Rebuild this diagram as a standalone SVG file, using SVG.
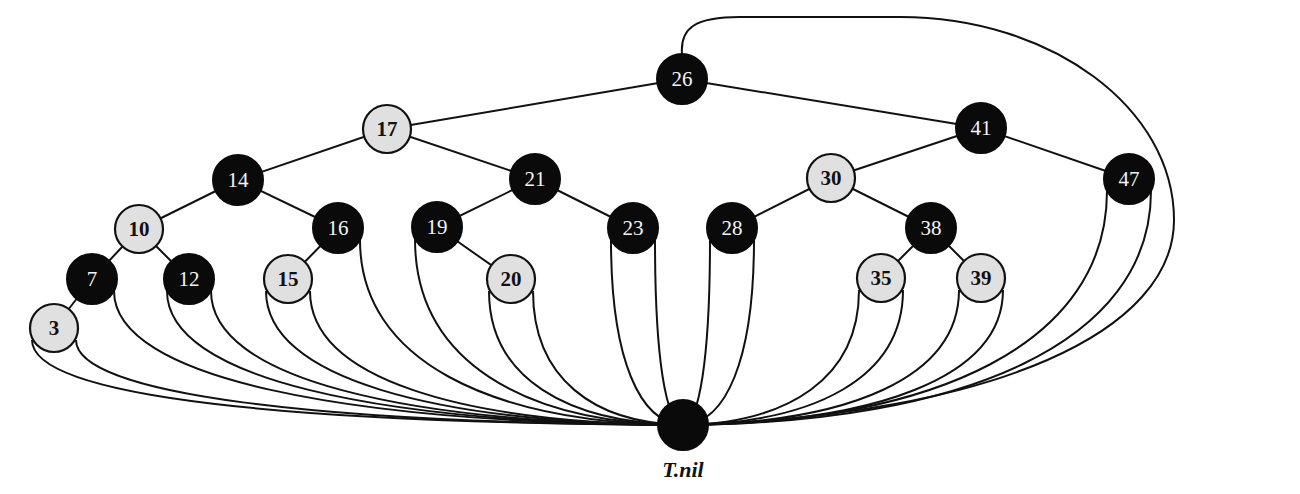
<svg xmlns="http://www.w3.org/2000/svg" width="1300" height="494" viewBox="0 0 1300 494">
  <style>
    .edge { stroke: #111; stroke-width: 2; fill: none; }
    .blk circle { fill: #0a0a0a; stroke: #0a0a0a; stroke-width: 2; }
    .red circle { fill: #e0e0e0; stroke: #111; stroke-width: 2.2; }
    .blk text { fill: #f4f4f4; font-family: "Liberation Serif", "DejaVu Serif", serif; font-size: 21px; text-anchor: middle; }
    .red text { fill: #111; font-family: "Liberation Serif", "DejaVu Serif", serif; font-size: 21px; font-weight: bold; text-anchor: middle; }
    .lbl { fill: #111; font-family: "Liberation Serif", "DejaVu Serif", serif; font-size: 22px; font-style: italic; font-weight: bold; text-anchor: middle; }
  </style>

  <g id="connectors">
    <!-- parent/child links -->
    <line class="edge" x1="682" y1="79" x2="387" y2="129"/>
    <line class="edge" x1="682" y1="79" x2="981" y2="128"/>
    <line class="edge" x1="387" y1="129" x2="238" y2="180"/>
    <line class="edge" x1="387" y1="129" x2="535" y2="179"/>
    <line class="edge" x1="238" y1="180" x2="139" y2="229"/>
    <line class="edge" x1="238" y1="180" x2="338" y2="228"/>
    <line class="edge" x1="139" y1="229" x2="92" y2="279"/>
    <line class="edge" x1="139" y1="229" x2="189" y2="279"/>
    <line class="edge" x1="92" y1="279" x2="54" y2="328"/>
    <line class="edge" x1="338" y1="228" x2="288" y2="279"/>
    <line class="edge" x1="535" y1="179" x2="437" y2="227"/>
    <line class="edge" x1="535" y1="179" x2="633" y2="228"/>
    <line class="edge" x1="437" y1="227" x2="511" y2="279"/>
    <line class="edge" x1="981" y1="128" x2="831" y2="178"/>
    <line class="edge" x1="981" y1="128" x2="1129" y2="179"/>
    <line class="edge" x1="831" y1="178" x2="732" y2="228"/>
    <line class="edge" x1="831" y1="178" x2="931" y2="228"/>
    <line class="edge" x1="931" y1="228" x2="881" y2="278"/>
    <line class="edge" x1="931" y1="228" x2="981" y2="278"/>

    <!-- sentinel links -->
    <path class="edge" d="M32,340 C32,398 292,423 683,425"/>
    <path class="edge" d="M76,340 C76,395 319,423 683,425"/>
    <path class="edge" d="M114,291 C114,378 342,423 683,425"/>
    <path class="edge" d="M167,291 C167,378 373,423 683,425"/>
    <path class="edge" d="M211,291 C211,378 400,423 683,425"/>
    <path class="edge" d="M266,291 C266,378 433,423 683,425"/>
    <path class="edge" d="M310,291 C310,378 459,423 683,425"/>
    <path class="edge" d="M360,240 C360,360 489,423 683,425"/>
    <path class="edge" d="M415,239 C415,360 522,423 683,425"/>
    <path class="edge" d="M489,291 C489,378 567,423 683,425"/>
    <path class="edge" d="M533,291 C533,378 593,423 683,425"/>
    <path class="edge" d="M611,240 C611,360 640,423 683,425"/>
    <path class="edge" d="M655,240 C655,360 666,423 683,425"/>
    <path class="edge" d="M710,240 C710,360 699,423 683,425"/>
    <path class="edge" d="M754,240 C754,360 726,423 683,425"/>
    <path class="edge" d="M859,290 C859,378 789,423 683,425"/>
    <path class="edge" d="M903,290 C903,378 815,423 683,425"/>
    <path class="edge" d="M959,290 C959,378 849,423 683,425"/>
    <path class="edge" d="M1003,290 C1003,378 875,423 683,425"/>
    <path class="edge" d="M1107,191 C1107,343 937,423 683,425"/>
    <path class="edge" d="M1151,191 C1151,343 964,423 683,425"/>
    <!-- root's parent pointer -->
    <path class="edge" d="M682,54 C680,28 695,17 740,17 L900,17 C1051,17 1174,108 1174,220 C1174,330 1000,415 683,425"/>
  </g>

  <g id="n26" class="blk"><circle cx="682" cy="79" r="25"/><text x="682" y="86">26</text></g>
  <g id="n17" class="red"><circle cx="387" cy="129" r="24"/><text x="387" y="136">17</text></g>
  <g id="n41" class="blk"><circle cx="981" cy="128" r="25"/><text x="981" y="135">41</text></g>
  <g id="n14" class="blk"><circle cx="238" cy="180" r="25"/><text x="238" y="187">14</text></g>
  <g id="n21" class="blk"><circle cx="535" cy="179" r="25"/><text x="535" y="186">21</text></g>
  <g id="n30" class="red"><circle cx="831" cy="178" r="24"/><text x="831" y="185">30</text></g>
  <g id="n47" class="blk"><circle cx="1129" cy="179" r="25"/><text x="1129" y="186">47</text></g>
  <g id="n10" class="red"><circle cx="139" cy="229" r="24"/><text x="139" y="236">10</text></g>
  <g id="n16" class="blk"><circle cx="338" cy="228" r="25"/><text x="338" y="235">16</text></g>
  <g id="n19" class="blk"><circle cx="437" cy="227" r="25"/><text x="437" y="234">19</text></g>
  <g id="n23" class="blk"><circle cx="633" cy="228" r="25"/><text x="633" y="235">23</text></g>
  <g id="n28" class="blk"><circle cx="732" cy="228" r="25"/><text x="732" y="235">28</text></g>
  <g id="n38" class="blk"><circle cx="931" cy="228" r="25"/><text x="931" y="235">38</text></g>
  <g id="n7" class="blk"><circle cx="92" cy="279" r="25"/><text x="92" y="286">7</text></g>
  <g id="n12" class="blk"><circle cx="189" cy="279" r="25"/><text x="189" y="286">12</text></g>
  <g id="n15" class="red"><circle cx="288" cy="279" r="24"/><text x="288" y="286">15</text></g>
  <g id="n20" class="red"><circle cx="511" cy="279" r="24"/><text x="511" y="286">20</text></g>
  <g id="n35" class="red"><circle cx="881" cy="278" r="24"/><text x="881" y="285">35</text></g>
  <g id="n39" class="red"><circle cx="981" cy="278" r="24"/><text x="981" y="285">39</text></g>
  <g id="n3" class="red"><circle cx="54" cy="328" r="24"/><text x="54" y="335">3</text></g>
  <g id="nil" class="blk"><circle cx="683" cy="425" r="25"/></g>
  <text class="lbl" x="683" y="477">T.nil</text>
</svg>
